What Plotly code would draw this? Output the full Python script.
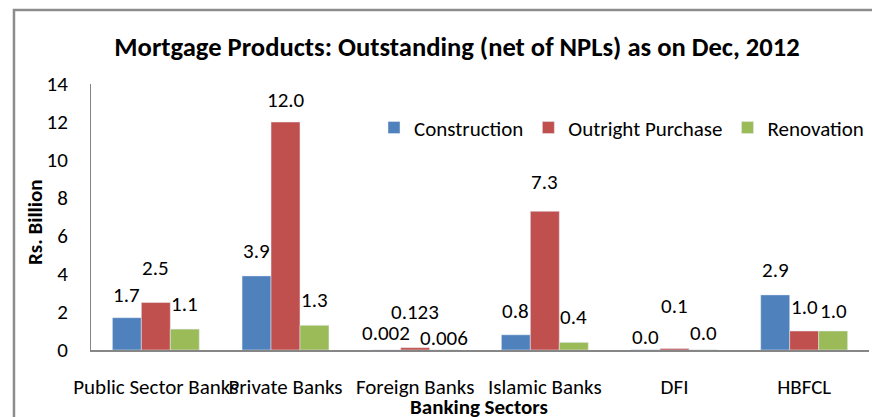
import plotly.graph_objects as go

categories = ["Public Sector Banks", "Private Banks", "Foreign Banks", "Islamic Banks", "DFI", "HBFCL"]
construction = [1.7, 3.9, 0.002, 0.8, 0.01, 2.9]
outright = [2.5, 12.0, 0.123, 7.3, 0.08, 1.0]
renovation = [1.1, 1.3, 0.006, 0.4, 0.01, 1.0]
label_decimals = [1, 1, 3, 1, 1, 1]
y_ticks = [0, 2, 4, 6, 8, 10, 12, 14]

# label lift above bar top (px), styling only
label_lift = {
    "Construction": [23, 25, 17, 24, 13, 25],
    "Outright Purchase": [35, 22, 36, 29, 42, 24],
    "Renovation": [25, 25, 12, 25, 17, 20],
}

FONT = "Carlito, 'Noto Sans', sans-serif"
FS = 21

series = [
    ("Construction", construction, "#4F81BD"),
    ("Outright Purchase", outright, "#C0504D"),
    ("Renovation", renovation, "#9BBB59"),
]

# browser body margin of 8px is compensated by shrinking the figure
W, H = 872, 409
ML, MR, MT, MB = 83, 11, 76, 67
plot_w = W - ML - MR
BARGAP = 0.33
bar_w = plot_w / len(categories) * (1 - BARGAP) / len(series)

fig = go.Figure()
for name, vals, color in series:
    fig.add_trace(go.Bar(name=name, x=categories, y=vals, marker_color=color))

for i, (name, vals, color) in enumerate(series):
    for j, (c, v) in enumerate(zip(categories, vals)):
        fig.add_annotation(x=c, y=v, xref="x", yref="y", text=f"{v:.{label_decimals[j]}f}",
                           showarrow=False, xshift=(i - 1) * bar_w, yshift=label_lift[name][j],
                           xanchor="center", yanchor="middle",
                           font=dict(size=FS, family=FONT, color="black"))

fig.update_layout(
    width=W, height=H,
    margin=dict(l=ML, r=MR, t=MT, b=MB, autoexpand=False),
    paper_bgcolor="white", plot_bgcolor="white",
    barmode="group", bargap=BARGAP, bargroupgap=0,
    font=dict(family=FONT, size=FS, color="black"),
    title=dict(text="<b>Mortgage Products: Outstanding (net of NPLs) as on Dec, 2012</b>",
               x=0.515, xanchor="center", y=0.905, yanchor="middle",
               font=dict(size=26.6, family=FONT, color="black")),
    legend=dict(orientation="h", x=1.0, xanchor="right", y=0.835, yanchor="middle",
                font=dict(size=FS, family=FONT), bgcolor="rgba(0,0,0,0)",
                itemwidth=30, traceorder="normal"),
)
fig.update_xaxes(showline=True, linecolor="#868686", linewidth=2, showgrid=False,
                 tickangle=0, ticks="", ticklabelstandoff=17,
                 tickfont=dict(size=FS, family=FONT))
fig.update_yaxes(range=[0, 14], tickvals=y_ticks, showline=True, linecolor="#868686",
                 linewidth=1, showgrid=False, zeroline=False, ticks="",
                 ticklabelstandoff=18, tickfont=dict(size=FS, family=FONT))

fig.add_annotation(text="<b>Banking Sectors</b>", xref="paper", yref="paper",
                   x=0.499, y=-0.216, xanchor="center", yanchor="middle",
                   showarrow=False, font=dict(size=FS, family=FONT))
fig.add_annotation(text="<b>Rs. Billion</b>", xref="paper", yref="paper",
                   x=-0.072, y=0.481, xanchor="center", yanchor="middle", textangle=-90,
                   showarrow=False, font=dict(size=FS, family=FONT))
fig.add_shape(type="rect", xref="paper", yref="paper", x0=-0.099, x1=1.06, y0=-0.4, y1=1.278,
              line=dict(color="#8C8C8C", width=2.5), fillcolor="rgba(0,0,0,0)", layer="below")

fig.write_html("out.html")
